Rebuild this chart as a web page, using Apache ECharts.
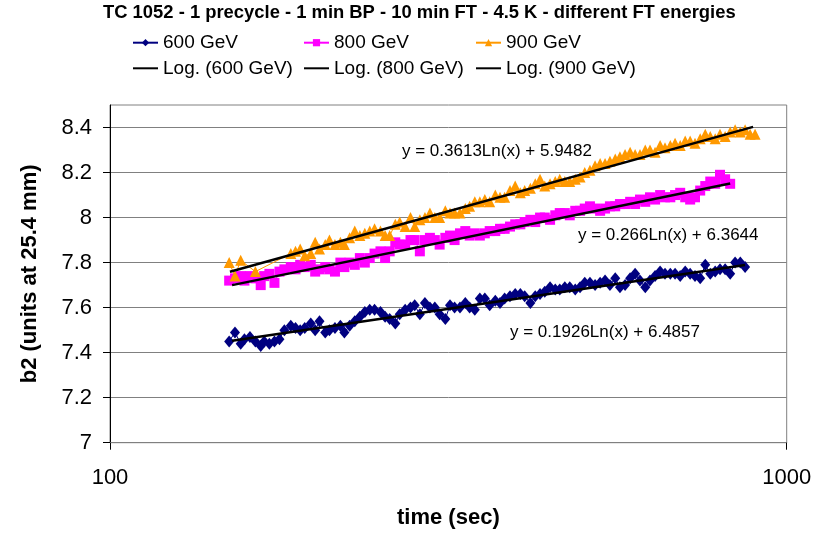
<!DOCTYPE html>
<html><head><meta charset="utf-8">
<script src="https://cdn.jsdelivr.net/npm/echarts@6/dist/echarts.min.js"></script>
<style>html,body{margin:0;padding:0;background:#fff}#c{width:817px;height:534px}</style>
</head><body><div id="c"></div>
<script>
// time (sec)
const times = [150,153,156,158,161,164,167,169,172,175,178,181,185,188,191,194,198,201,204,208,211,215,219,222,226,230,234,238,242,246,251,255,259,264,268,273,278,282,287,292,297,302,307,313,318,323,329,335,340,346,352,358,364,371,377,383,390,397,404,410,418,425,432,439,447,455,462,470,478,487,495,503,512,521,530,539,548,558,567,577,587,597,607,618,628,639,650,661,673,684,696,708,720,732,745,758,771,784,797,811,825,839,854,868,883,898];

// b2 values, 600 GeV
const b600 = [7.45,7.49,7.44,7.46,7.47,7.45,7.43,7.45,7.44,7.45,
7.46,7.50,7.52,7.51,7.50,7.51,7.53,7.50,7.54,7.49,
7.50,7.51,7.52,7.49,7.52,7.54,7.56,7.58,7.59,7.59,
7.58,7.56,7.55,7.53,7.57,7.59,7.60,7.61,7.57,7.62,
7.60,7.60,7.57,7.55,7.61,7.60,7.60,7.62,7.60,7.59,
7.64,7.64,7.61,7.63,7.62,7.64,7.65,7.66,7.66,7.65,
7.62,7.65,7.66,7.67,7.69,7.68,7.68,7.69,7.69,7.68,
7.69,7.71,7.71,7.70,7.71,7.72,7.70,7.73,7.69,7.70,
7.73,7.75,7.72,7.69,7.72,7.74,7.76,7.75,7.75,7.75,
7.74,7.76,7.75,7.74,7.73,7.79,7.75,7.76,7.77,7.77,
7.75,7.80,7.80,7.78];

// b2 values, 800 GeV
const b800 = [7.72,7.73,7.74,7.72,7.74,7.73,7.70,7.74,7.75,7.71,
7.76,7.77,7.78,7.77,7.79,7.78,7.79,7.76,7.77,7.78,
7.77,7.76,7.80,7.78,7.80,7.79,7.82,7.80,7.82,7.84,
7.85,7.82,7.85,7.89,7.88,7.88,7.90,7.90,7.85,7.90,
7.91,7.90,7.88,7.91,7.92,7.90,7.93,7.94,7.92,7.93,
7.92,7.93,7.94,7.94,7.95,7.95,7.96,7.97,7.97,7.98,
7.99,7.98,8.00,8.00,7.99,8.01,8.02,8.02,8.01,8.03,
8.03,8.04,8.05,8.04,8.03,8.04,8.05,8.05,8.06,8.06,
8.07,8.06,8.08,8.07,8.09,8.08,8.10,8.09,8.09,8.10,
8.11,8.09,8.08,8.09,8.12,8.14,8.16,8.15,8.19,8.17,
8.15];

// b2 values, 900 GeV (null = no sample)
const b900 = [7.80,7.74,7.81,null,null,7.76,null,null,null,null,
null,null,7.84,7.85,7.86,7.83,7.84,7.89,7.86,7.88,
7.90,7.88,7.89,7.88,7.91,7.94,7.92,7.93,7.94,7.95,
7.94,7.92,7.92,7.97,7.98,7.96,8.00,7.96,7.99,8.00,
8.02,8.00,8.00,8.03,8.02,8.02,8.02,8.04,8.05,8.07,
8.07,8.08,8.07,8.10,8.09,8.09,8.12,8.14,8.11,8.12,
8.13,8.15,8.17,8.14,8.15,8.16,8.17,8.16,8.16,8.17,
8.18,8.20,8.21,8.23,8.24,8.24,8.25,8.26,8.27,8.28,
8.29,8.28,8.28,8.30,8.30,8.29,8.32,8.31,8.32,8.33,
8.32,8.34,8.34,8.33,8.35,8.37,8.36,8.35,8.37,8.36,
8.38,8.39,8.38,8.39,8.37,8.37];

// logarithmic trend line end points [time, b2]
const trend600 = [[151.5, 7.453], [868, 7.789]];
const trend800 = [[151.5, 7.700], [825, 8.151]];
const trend900 = [[150.4, 7.759], [892, 8.403]];

const eq600 = 'y = 0.1926Ln(x) + 6.4857';
const eq800 = 'y = 0.266Ln(x) + 6.3644';
const eq900 = 'y = 0.3613Ln(x) + 5.9482';

const yTicks = [7, 7.2, 7.4, 7.6, 7.8, 8, 8.2, 8.4];
const xTicks = [100, 1000];

const names = ['600 GeV', '800 GeV', '900 GeV'];
const trendNames = ['Log. (600 GeV)', 'Log. (800 GeV)', 'Log. (900 GeV)'];

function pairs(ys) {
  const out = [];
  ys.forEach((y, i) => { if (y !== null) out.push([times[i], y]); });
  return out;
}

const FONT = '"Liberation Sans", Arial, sans-serif';
const chart = echarts.init(document.getElementById('c'));

function legendCol(left, items) {
  return {
    left: left, top: 32.7, orient: 'vertical',
    itemWidth: 25, itemHeight: 9, itemGap: 5.6, padding: 0,
    textStyle: { fontFamily: FONT, fontSize: 19, color: '#000', lineHeight: 20 },
    data: [
      { name: items[0] },
      { name: items[1], itemStyle: { opacity: 0 } }
    ]
  };
}

function dataSeries(name, ys, color, symbol, size) {
  return {
    name: name, type: 'line', data: pairs(ys),
    symbol: symbol, symbolSize: size, showAllSymbol: true,
    itemStyle: { color: color },
    lineStyle: { color: color, width: 1 },
    z: 2
  };
}
function trendSeries(name, pts) {
  return {
    name: name, type: 'line', data: pts, symbol: 'none',
    itemStyle: { color: '#000' },
    lineStyle: { color: '#000', width: 2.5 },
    z: 5
  };
}

chart.setOption({
  animation: false,
  backgroundColor: '#fff',
  title: {
    text: 'TC 1052 - 1 precycle - 1 min BP - 10 min FT - 4.5 K - different FT energies',
    left: 103, top: 4, padding: 0,
    textStyle: { fontFamily: FONT, fontSize: 18.4, fontWeight: 'bold', color: '#000' }
  },
  legend: [
    legendCol(132, [names[0], trendNames[0]]),
    legendCol(303, [names[1], trendNames[1]]),
    legendCol(475, [names[2], trendNames[2]])
  ],
  grid: {
    left: 110, right: 30.3, top: 105, bottom: 91.3,
    show: true, borderColor: '#808080', borderWidth: 1, backgroundColor: 'transparent'
  },
  xAxis: {
    type: 'log', logBase: 10, min: 100, max: 1000,
    name: 'time (sec)', nameLocation: 'middle', nameGap: 64,
    nameTextStyle: { fontFamily: FONT, fontSize: 22, fontWeight: 'bold', color: '#000' },
    axisLine: { show: true, lineStyle: { color: '#808080', width: 1 } },
    axisTick: { show: true, length: 7, inside: false, lineStyle: { color: '#000' } },
    minorTick: { show: false },
    splitLine: { show: false },
    axisLabel: {
      fontFamily: FONT, fontSize: 22, color: '#000', margin: 24, customValues: xTicks,
      formatter: function (v) { return String(Math.round(v)); }
    }
  },
  yAxis: {
    type: 'value', min: 7, max: 8.5, interval: 0.2,
    name: 'b2 (units at 25.4 mm)', nameLocation: 'middle', nameGap: 69,
    nameTextStyle: { fontFamily: FONT, fontSize: 22, fontWeight: 'bold', color: '#000' },
    axisLine: { show: true, lineStyle: { color: '#000', width: 1 } },
    axisTick: { show: true, length: 7, inside: false, lineStyle: { color: '#000' }, customValues: yTicks },
    splitLine: { show: true, lineStyle: { color: '#808080', width: 1 } },
    axisLabel: { fontFamily: FONT, fontSize: 22, color: '#000', margin: 18, customValues: yTicks }
  },
  graphic: [
    { type: 'text', x: 402, y: 151, z: 10, style: { text: eq900, font: '17px ' + FONT, fill: '#000', verticalAlign: 'middle' } },
    { type: 'text', x: 578, y: 235, z: 10, style: { text: eq800, font: '17px ' + FONT, fill: '#000', verticalAlign: 'middle' } },
    { type: 'text', x: 510, y: 332, z: 10, style: { text: eq600, font: '17px ' + FONT, fill: '#000', verticalAlign: 'middle' } }
  ],
  series: [
    dataSeries(names[0], b600, '#000080', 'diamond', [10, 12]),
    dataSeries(names[1], b800, '#FF00FF', 'rect', 10),
    dataSeries(names[2], b900, '#FF9900', 'triangle', 11),
    trendSeries(trendNames[0], trend600),
    trendSeries(trendNames[1], trend800),
    trendSeries(trendNames[2], trend900)
  ]
});
</script>
</body></html>
